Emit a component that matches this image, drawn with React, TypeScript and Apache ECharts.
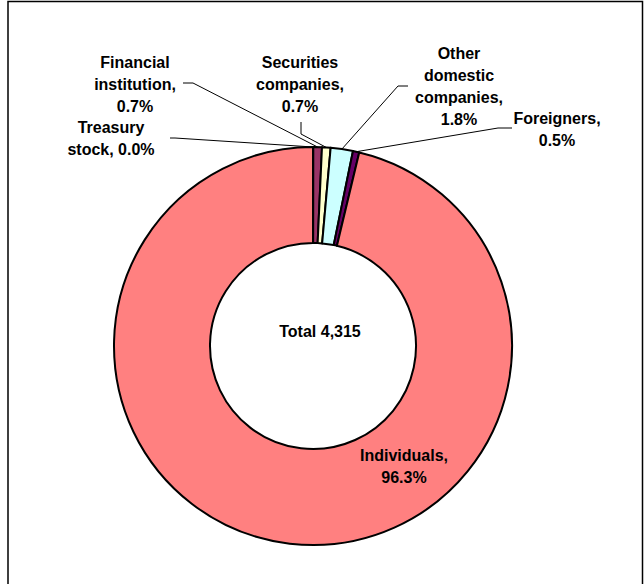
import React, { useEffect, useRef } from "react";
import * as echarts from "echarts";

// ---- data ----
const categories = [
  "Treasury stock",
  "Financial institution",
  "Securities companies",
  "Other domestic companies",
  "Foreigners",
  "Individuals",
];
const shareholders = [1, 30, 30, 78, 22, 4154];
const labelNames = [
  "Treasury\nstock, ",
  "Financial\ninstitution,\n",
  "Securities\ncompanies,\n",
  "Other\ndomestic\ncompanies,\n",
  "Foreigners,\n",
  "Individuals,\n",
];
const totalLabel = "Total";

// ---- styling / layout ----
const colors = ["#9999FF", "#993366", "#FFFFCC", "#CCFFFF", "#660066", "#FF8080"];
const CX = 313;
const CY = 346;
const R_OUT = 199;
const R_IN = 103;
const labelAnchors: number[][] = [
  [111, 138],
  [135, 84],
  [300, 84],
  [459, 86],
  [557, 129],
  [404, 466],
];
const leaderPoints: (number[][] | null)[] = [
  [[175, 138], [170, 138]],
  [[193, 83], [183, 83]],
  [[301, 134], [301, 122]],
  [[398, 86], [408, 86]],
  [[498, 128], [512, 128]],
  null,
];
const FONT = "'Liberation Sans', Arial, sans-serif";

export default function App() {
  const ref = useRef<HTMLDivElement>(null);
  useEffect(() => {
    if (!ref.current) return;
    const chart = echarts.init(ref.current, undefined, { renderer: "svg" });
    const total = shareholders.reduce((a, b) => a + b, 0);

    const midPoint = (i: number) => {
      let before = 0;
      for (let k = 0; k < i; k++) before += shareholders[k];
      const frac = (before + shareholders[i] / 2) / total;
      const a = frac * Math.PI * 2;
      return [CX + R_OUT * Math.sin(a), CY - R_OUT * Math.cos(a)];
    };

    chart.setOption({
      animation: false,
      backgroundColor: "#ffffff",
      graphic: [
        {
          type: "rect",
          shape: { x: 8, y: 1.5, width: 634.5, height: 620 },
          style: { fill: "none", stroke: "#000", lineWidth: 1.5 },
          z: 10,
        },
        {
          type: "text",
          x: 320,
          y: 331,
          style: {
            text: `${totalLabel} ${total.toLocaleString("en-US")}`,
            font: `bold 16px ${FONT}`,
            fill: "#000",
            align: "center",
            verticalAlign: "middle",
          },
          z: 10,
        },
      ],
      series: [
        {
          type: "pie",
          center: [CX, CY],
          radius: [R_IN, R_OUT],
          startAngle: 90,
          clockwise: true,
          avoidLabelOverlap: false,
          itemStyle: { borderColor: "#000", borderWidth: 2 },
          label: {
            show: true,
            position: "outside",
            color: "#000",
            fontFamily: FONT,
            fontWeight: "bold",
            fontSize: 16,
            lineHeight: 22,
            align: "center",
            formatter: (p: any) =>
              labelNames[p.dataIndex] +
              ((shareholders[p.dataIndex] / total) * 100).toFixed(1) +
              "%",
          },
          labelLine: {
            show: true,
            length: 10,
            length2: 10,
            lineStyle: { color: "#000", width: 1 },
          },
          labelLayout: (params: any) => {
            const i = params.dataIndex;
            const anchor = labelAnchors[i];
            const out: any = {
              x: anchor[0],
              y: anchor[1],
              align: "center",
              verticalAlign: "middle",
            };
            const lp = leaderPoints[i];
            if (lp) {
              const p0 =
                params.labelLinePoints && params.labelLinePoints[0]
                  ? params.labelLinePoints[0]
                  : midPoint(i);
              out.labelLinePoints = [p0, lp[0], lp[1]];
            }
            return out;
          },
          data: categories.map((name, i) => ({
            name,
            value: shareholders[i],
            itemStyle: { color: colors[i] },
            ...(i === categories.length - 1
              ? { label: { position: "inside" }, labelLine: { show: false } }
              : {}),
          })),
        },
      ],
    });
    return () => chart.dispose();
  }, []);

  return (
    <div
      ref={ref}
      style={{ position: "absolute", left: 0, top: 0, width: 644, height: 584 }}
    />
  );
}
